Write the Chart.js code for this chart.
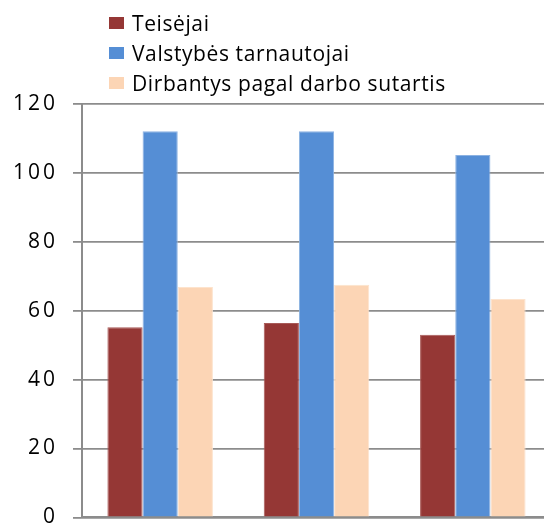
<!DOCTYPE html>
<html>
<head>
<meta charset="utf-8">
<script src="https://cdn.jsdelivr.net/npm/chart.js@4"></script>
<style>
html, body { margin: 0; padding: 0; overflow: hidden; background: #fff; width: 544px; height: 525px; }
#wrap { position: absolute; left: 0; top: 0; width: 560px; height: 545px; }
#legend { position: absolute; left: 109px; top: 8px; font-family: "Open Sans", sans-serif; font-size: 21px; letter-spacing: 0.6px; color: #000; }
.item { height: 30px; line-height: 30px; display: flex; align-items: center; white-space: nowrap; }
.sw { width: 15px; height: 12px; margin-right: 8px; display: inline-block; }
</style>
</head>
<body>
<div id="wrap">
<canvas id="c" width="560" height="545"></canvas>
<div id="legend"></div>
</div>
<script>
const categories = ["1", "2", "3"];
const seriesNames = ["Teisėjai", "Valstybės tarnautojai", "Dirbantys pagal darbo sutartis"];
const teisejai = [55.2, 56.4, 53.0];
const valstybesTarnautojai = [112.1, 112.1, 105.2];
const dirbantys = [66.9, 67.5, 63.4];
const yTicks = [0, 20, 40, 60, 80, 100, 120];

const colors = ["#953735", "#558ED5", "#FCD5B5"];
const borders = ["#a85a58", "#8cb2e2", "#fde3cd"];
const values = [teisejai, valstybesTarnautojai, dirbantys];

const legend = document.getElementById('legend');
seriesNames.forEach((n, i) => {
  const d = document.createElement('div');
  d.className = 'item';
  const s = document.createElement('span');
  s.className = 'sw';
  s.style.background = colors[i];
  d.appendChild(s);
  d.appendChild(document.createTextNode(n));
  legend.appendChild(d);
});

const spacing = {
  id: 'spacing',
  beforeDraw(chart) { chart.ctx.letterSpacing = '3px'; }
};

new Chart(document.getElementById('c'), {
  type: 'bar',
  data: {
    labels: categories,
    datasets: seriesNames.map((n, i) => ({
      label: n,
      data: values[i],
      backgroundColor: colors[i],
      borderColor: borders[i],
      borderWidth: 1,
      categoryPercentage: 0.675,
      barPercentage: 1.0
    }))
  },
  plugins: [spacing],
  options: {
    responsive: false,
    animation: false,
    layout: { padding: { top: 104, right: 9, bottom: 27.5, left: 0 } },
    plugins: { legend: { display: false }, tooltip: { enabled: false } },
    scales: {
      x: {
        afterFit: (s) => { s.height = 0; },
        ticks: { display: false },
        grid: { display: false, drawTicks: false },
        border: { display: true, color: '#8c8c8c', width: 2 }
      },
      y: {
        min: 0, max: 120,
        afterBuildTicks: (s) => { s.ticks = yTicks.map(v => ({ value: v })); },
        afterFit: (s) => { s.width = 82; },
        ticks: {
          color: '#000',
          padding: 15,
          font: { family: 'Open Sans', size: 21 }
        },
        grid: { color: '#8c8c8c', lineWidth: 1.8, tickLength: 9 },
        border: { display: true, color: '#8c8c8c', width: 2 }
      }
    }
  }
});
</script>
</body>
</html>
